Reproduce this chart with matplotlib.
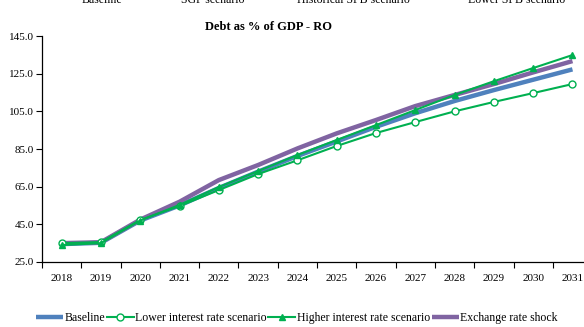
import matplotlib
matplotlib.use("Agg")
import matplotlib.pyplot as plt
import numpy as np

years = ["2018", "2019", "2020", "2021", "2022", "2023", "2024",
         "2025", "2026", "2027", "2028", "2029", "2030", "2031"]
baseline = [34.5, 35.2, 47.0, 55.0, 64.3, 73.0, 81.3, 89.0, 96.8, 104.0, 110.5, 116.3, 121.8, 127.3]
lower_rate = [35.0, 35.6, 47.3, 54.7, 63.2, 71.7, 79.0, 86.6, 93.5, 99.3, 105.0, 110.0, 114.7, 119.5]
higher_rate = [34.0, 35.0, 47.0, 55.3, 64.8, 73.3, 81.8, 89.8, 97.7, 105.7, 113.7, 121.0, 128.0, 134.9]
fx_shock = [35.0, 35.5, 47.5, 57.0, 68.5, 76.5, 85.3, 93.3, 100.4, 107.8, 113.7, 119.5, 125.7, 131.7]
yticks = [25.0, 45.0, 65.0, 85.0, 105.0, 125.0, 145.0]
top_labels = ["Baseline", "SGP scenario", "Historical SPB scenario", "Lower SPB scenario"]

plt.rcParams["font.family"] = ["Liberation Serif", "DejaVu Serif"]

fig = plt.figure(figsize=(5.84, 3.27), dpi=100)
ax = fig.add_axes([0.0719, 0.1988, 0.942, 0.691])

x = np.arange(len(years))
blue = "#4F81BD"
green = "#00B050"
purple = "#8064A2"

ax.plot(x, baseline, color=blue, lw=3.2, label="Baseline", zorder=2,
        solid_capstyle="butt")
ax.plot(x, lower_rate, color=green, lw=1.5, marker="o", ms=5, mfc="white",
        mec=green, mew=1.0, label="Lower interest rate scenario", zorder=3)
ax.plot(x, higher_rate, color=green, lw=1.5, marker="^", ms=5, mfc=green,
        mec=green, label="Higher interest rate scenario", zorder=3)
ax.plot(x, fx_shock, color=purple, lw=3.2, label="Exchange rate shock", zorder=2,
        solid_capstyle="butt")

ax.set_xlim(-0.5, len(years) - 0.5)
ax.set_ylim(25, 145)
ax.set_yticks(yticks)
ax.set_yticklabels([f"{v:.1f}" for v in yticks], fontsize=8)
ax.set_xticks(x)
ax.set_xticklabels(years, fontsize=8)
ax.tick_params(axis="x", which="major", length=0, pad=9)
ax.set_xticks(np.arange(-0.5, len(years)), minor=True)
ax.tick_params(axis="x", which="minor", length=4, width=0.8, direction="out")
ax.tick_params(axis="y", length=4, width=0.8, direction="out", pad=2)
for s in ("top", "right"):
    ax.spines[s].set_visible(False)
for s in ("left", "bottom"):
    ax.spines[s].set_linewidth(0.9)

fig.text(0.459, 0.918, "Debt as % of GDP - RO", ha="center", va="center",
         fontsize=9, fontweight="bold")

# Labels of the companion chart above, cut off by the top edge
for xp, t in zip([0.175, 0.365, 0.605, 0.885], top_labels):
    fig.text(xp, 1.0, t, ha="center", va="center", fontsize=8.5)

fig.legend(loc="center", bbox_to_anchor=(0.508, 0.027), ncol=4, frameon=False,
           fontsize=8.5, handlelength=2.3, handletextpad=0.1, columnspacing=0.15,
           borderaxespad=0)

fig.savefig("out.png", dpi=100)
